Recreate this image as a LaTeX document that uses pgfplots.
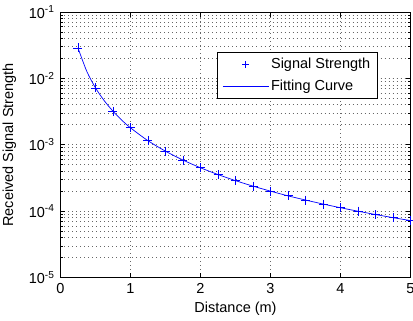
\documentclass[border=0pt]{standalone}
\usepackage{pgfplots}
\pgfplotsset{compat=1.18}
\usepackage{fontspec}
\setmainfont{Liberation Sans}
\pgfplotsset{
  markleg/.style={legend image code/.code={\path[draw=none,fill=none] (0bp,0bp) -- (46bp,0bp);\draw[##1] plot[mark=+, mark size=3.5bp] coordinates {(23bp,0bp)};}},
  lineleg/.style={legend image code/.code={\draw[##1] (0bp,0bp) -- (46bp,0bp);}},
}
\begin{document}
\fontsize{14.5bp}{17bp}\selectfont
\begin{tikzpicture}
\begin{semilogyaxis}[
  scale only axis,
  width=350bp, height=265.5bp,
  xmin=0, xmax=5, ymin=1e-5, ymax=1e-1,
  xtick={0,1,2,3,4,5},
  xticklabels={0,1,2,3,4,5},
  ytick={1e-5,1e-4,1e-3,1e-2,1e-1},
  yticklabels={10\textsuperscript{-5},10\textsuperscript{-4},10\textsuperscript{-3},10\textsuperscript{-2},10\textsuperscript{-1}},
  tick align=inside,
  major tick length=5bp, minor tick length=3bp,
  tick style={black, line width=0.6bp},
  axis line style={black, line width=0.9bp},
  xmajorgrids=true, ymajorgrids=true, yminorgrids=true,
  major grid style={black!60, line width=0.6bp, dash pattern=on 0.6bp off 3.4bp},
  minor grid style={black!60, line width=0.6bp, dash pattern=on 0.6bp off 3.4bp},
  xlabel={Distance (m)},
  ylabel={Received Signal Strength},
  xlabel style={at={(axis description cs:0.5,-0.117)}, anchor=center},
  ylabel style={at={(axis description cs:-0.146,0.5)}, anchor=center},
  xticklabel style={yshift=-1bp},
  yticklabel style={xshift=-1bp},
  legend style={at={(axis cs:4.53,0.025)}, anchor=north east, draw=black, line width=0.7bp,
    fill=white, font=\fontsize{14.5bp}{17bp}\selectfont, row sep=5bp, inner xsep=5bp, inner ysep=4bp},
  legend cell align=left,
  clip=false,
]
\addplot[only marks, mark=+, mark size=4.5bp, blue, mark options={line width=0.7bp}, markleg] coordinates {
(0.25,0.0288) (0.5,0.0072) (0.75,0.0032) (1,0.0018) (1.25,0.00115) (1.5,0.0008)
(1.75,0.000588) (2,0.00045) (2.25,0.000356) (2.5,0.000288) (2.75,0.000238) (3,0.0002)
(3.25,0.00017) (3.5,0.000147) (3.75,0.000128) (4,0.0001125) (4.25,0.0000997) (4.5,0.0000889)
(4.75,0.0000798) (5,0.000072)
};
\addlegendentry{Signal Strength}
\addplot[blue, line width=0.7bp, smooth, lineleg] coordinates {
(0.25,0.0288) (0.375,0.0128) (0.5,0.0072) (0.625,0.00461) (0.75,0.0032) (0.875,0.00235) (1,0.0018) (1.25,0.00115) (1.5,0.0008)
(1.75,0.000588) (2,0.00045) (2.25,0.000356) (2.5,0.000288) (2.75,0.000238) (3,0.0002)
(3.25,0.00017) (3.5,0.000147) (3.75,0.000128) (4,0.0001125) (4.25,0.0000997) (4.5,0.0000889)
(4.75,0.0000798) (5,0.000072)
};
\addlegendentry{Fitting Curve}
\end{semilogyaxis}
\pgfresetboundingbox
\path ([xshift=-60.5bp,yshift=-43.5bp]current axis.south west) rectangle ([xshift=2.5bp,yshift=12bp]current axis.north east);
\end{tikzpicture}
\end{document}
